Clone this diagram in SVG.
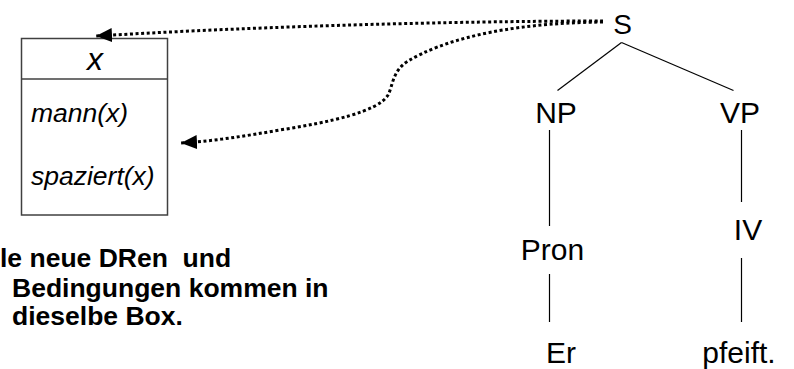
<svg xmlns="http://www.w3.org/2000/svg" width="794" height="369" viewBox="0 0 794 369">
  <style>
    text { font-family: "Liberation Sans", Arial, sans-serif; fill: #000; }
    .lab { font-size: 30px; text-anchor: middle; }
    .drs { font-style: italic; font-size: 26.5px; }
    .note { font-weight: bold; font-size: 26.5px; white-space: pre; }
    .edge { stroke: #000; stroke-width: 1.2; fill: none; }
    .dots { stroke: #000; stroke-width: 3; stroke-dasharray: 3 2.6; fill: none; }
  </style>
  <defs>
    <marker id="head" markerUnits="userSpaceOnUse" markerWidth="17" markerHeight="15" refX="16" refY="7" orient="auto">
      <path d="M0,0 L16,7 L0,14 z" fill="#000"/>
    </marker>
  </defs>
  <rect width="794" height="369" fill="#fff"/>

  <!-- DRS box -->
  <g id="drs-box">
    <rect x="21.5" y="38.5" width="146" height="176.5" fill="#fff" stroke="#404040" stroke-width="1.5"/>
    <line x1="21.5" y1="79" x2="167.5" y2="79" stroke="#404040" stroke-width="1.5"/>
    <text class="drs" x="95" y="70" text-anchor="middle" style="font-size:32px">x</text>
    <text class="drs" x="31" y="122">mann(x)</text>
    <text class="drs" x="31" y="185">spaziert(x)</text>
  </g>

  <!-- note below the box -->
  <g id="note">
    <text class="note" x="0" y="267">le neue DRen  und</text>
    <text class="note" x="12" y="297">Bedingungen kommen in</text>
    <text class="note" x="12" y="325">dieselbe Box.</text>
  </g>

  <!-- syntax tree nodes -->
  <g id="node-S"><text class="lab" x="622.5" y="33.5" style="font-size:28px">S</text></g>
  <g id="node-NP"><text class="lab" x="556" y="123">NP</text></g>
  <g id="node-VP"><text class="lab" x="740" y="123">VP</text></g>
  <g id="node-Pron"><text class="lab" x="552.5" y="260">Pron</text></g>
  <g id="node-IV"><text class="lab" x="748" y="240">IV</text></g>
  <g id="node-Er"><text class="lab" x="561" y="363">Er</text></g>
  <g id="node-pfeift"><text class="lab" x="739" y="363">pfeift.</text></g>

  <!-- connectors -->
  <g id="connectors">
    <line class="edge" x1="621.5" y1="42.5" x2="557.5" y2="90.5"/>
    <line class="edge" x1="621.5" y1="42.5" x2="733.5" y2="90.5"/>
    <line class="edge" x1="549.5" y1="130" x2="549.5" y2="226"/>
    <line class="edge" x1="549.5" y1="274" x2="549.5" y2="322"/>
    <line class="edge" x1="741.5" y1="130" x2="741.5" y2="202"/>
    <line class="edge" x1="741.5" y1="258" x2="741.5" y2="322"/>
    <path class="dots" d="M603,21 C500,21 300,24 96,36" marker-end="url(#head)"/>
    <path class="dots" d="M603,22 C500,23 440,42 408,61 C392,71 393,86 388,95 C378,112 330,122 280,130 C245,136 215,141 181,143" marker-end="url(#head)"/>
  </g>
</svg>
